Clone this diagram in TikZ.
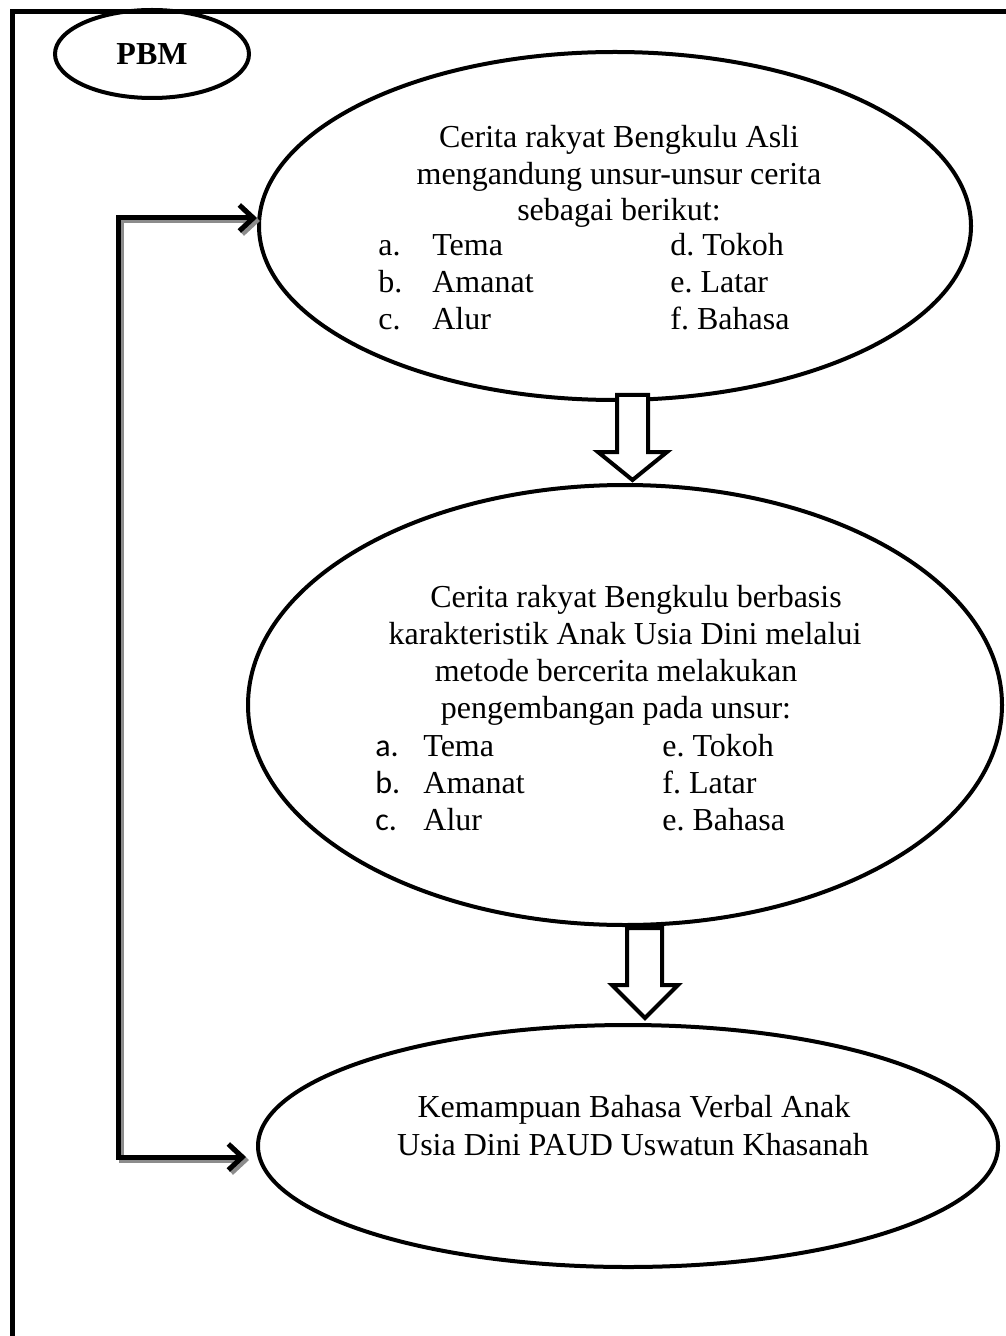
\documentclass[tikz,border=0pt]{standalone}
\usepackage{fontspec}
\setmainfont{Liberation Serif}
\newfontfamily\calibri{Carlito}
\usetikzlibrary{arrows.meta,shapes.geometric,positioning}
\frenchspacing

\begin{document}
\begin{tikzpicture}[x=.5pt,y=-.5pt,>={Straight Barb[length=7pt,width=13pt]},
 oval/.style={draw,ellipse,line width=2pt,inner sep=0pt},
 txt/.style={inner sep=0pt,anchor=base,font=\fontsize{16}{18.5}\selectfont},
 lst/.style={txt,anchor=base west},
 conn/.style={line width=2.5pt,<->,shorten >=5pt},
 hollow/.style={draw,fill=white,line width=2pt,miter limit=10}]
 \useasboundingbox (0,0) rectangle (1005,1336);
 % frame (cut at right and bottom)
 \draw[line width=2.5pt] (12,1350) -- (12,12) -- (1020,12);

 \node[oval,minimum width=97pt,minimum height=44pt,
  font=\fontsize{16}{18.5}\selectfont\bfseries] (pbm) at (152,54) {PBM};
 \node[oval,minimum width=356pt,minimum height=174pt] (e1) at (615,226) {};
 \node[oval,minimum width=377pt,minimum height=220pt] (e2) at (625,705) {};
 \node[oval,minimum width=370pt,minimum height=121pt] (e3) at (628,1146) {};

 % unsur cerita asli
 \node[txt] (h1a) at (619,148) {Cerita rakyat Bengkulu Asli};
 \node[txt] (h1b) at (619,185) {mengandung unsur-unsur cerita};
 \node[txt] (h1c) at (619,221) {sebagai berikut:};
 \node[lst] (u1a) at (378,256) {\makebox[27pt][l]{a.}Tema};
 \node[lst] (u1b) at (378,293) {\makebox[27pt][l]{b.}Amanat};
 \node[lst] (u1c) at (378,330) {\makebox[27pt][l]{c.}Alur};
 \node[lst] (u1d) at (670,256) {d. Tokoh};
 \node[lst] (u1e) at (670,293) {e. Latar};
 \node[lst] (u1f) at (670,330) {f. Bahasa};

 % pengembangan unsur
 \node[txt] (h2a) at (636,607) {Cerita rakyat Bengkulu berbasis};
 \node[txt] (h2b) at (625,644) {karakteristik Anak Usia Dini melalui};
 \node[txt] (h2c) at (616,681) {metode bercerita melakukan};
 \node[txt] (h2d) at (616,718) {pengembangan pada unsur:};
 \node[lst] (u2a) at (375,756) {\makebox[24pt][l]{\calibri a.}Tema};
 \node[lst] (u2b) at (375,793) {\makebox[24pt][l]{\calibri b.}Amanat};
 \node[lst] (u2c) at (375,830) {\makebox[24pt][l]{\calibri c.}Alur};
 \node[lst] (u2d) at (662,756) {e. Tokoh};
 \node[lst] (u2e) at (662,793) {f. Latar};
 \node[lst] (u2f) at (662,830) {e. Bahasa};

 \node[txt] (h3a) at (634,1117) {Kemampuan Bahasa Verbal Anak};
 \node[txt] (h3b) at (633,1155) {Usia Dini PAUD Uswatun Khasanah};

 % hollow down arrows
 \coordinate (d1) at (617,395);
 \coordinate (d2) at (627,928);
 \draw[hollow] (d1) -- ++(0,57) -- ++(-19,0) -- ++(34.5,28) -- ++(34.5,-28)
  -- ++(-19,0) -- ++(0,-57) -- cycle;
 \draw[hollow] (d2) -- ++(0,57) -- ++(-15,0) -- ++(33,33) -- ++(33,-33)
  -- ++(-16,0) -- ++(0,-57) -- cycle;

 % feedback line with shadow
 \coordinate (lt) at (118,218);
 \coordinate (lb) at (118,1157);
 \draw[conn,black!45,transform canvas={xshift=1.5pt,yshift=-1.5pt}]
  (e1.west |- lt) -- (lt) -- (lb) -- (e3.west |- lb);
 \draw[conn] (e1.west |- lt) -- (lt) -- (lb) -- (e3.west |- lb);
\end{tikzpicture}
\end{document}
